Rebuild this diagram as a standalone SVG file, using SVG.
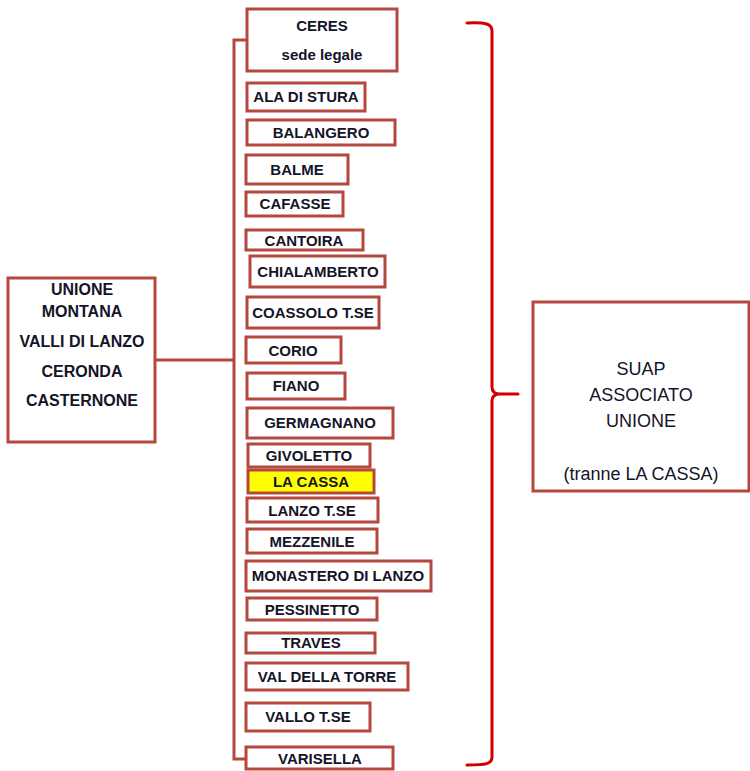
<svg xmlns="http://www.w3.org/2000/svg" width="750" height="771" viewBox="0 0 750 771">
<style>
.box{fill:#ffffff;stroke:#b5473f;stroke-width:3}
.hl{fill:#ffff00;stroke:#b5473f;stroke-width:3}
.t{font-family:"Liberation Sans",Arial,sans-serif;font-weight:bold;font-size:15px;fill:#141428;text-anchor:middle}
.tl{font-family:"Liberation Sans",Arial,sans-serif;font-weight:bold;font-size:16px;fill:#141428;text-anchor:middle}
.ts{font-family:"Liberation Sans",Arial,sans-serif;font-size:18px;fill:#141428;text-anchor:middle}
.conn{fill:none;stroke:#b5473f;stroke-width:3}
.brace{fill:none;stroke:#d00000;stroke-width:3;stroke-linejoin:round;stroke-linecap:round}
</style>
<rect width="750" height="771" fill="#ffffff"/>
<g id="connectors">
<path class="conn" d="M155,360 H234"/>
<path class="conn" d="M247,40 H234 V759 H246"/>
<path class="brace" d="M467,23 C486,22 492,24 492,31 L492,387 Q492,394 500,394 L518,394 M500,394 Q492,394 492,401 L492,757 C492,764 486,765 467,765"/>
</g>
<g id="unione"><rect class="box" x="8" y="278" width="147" height="164"/>
<text class="tl" x="82" y="295">UNIONE</text><text class="tl" x="82" y="317">MONTANA</text><text class="tl" x="82" y="347">VALLI DI LANZO</text><text class="tl" x="82" y="377">CERONDA</text><text class="tl" x="82" y="406">CASTERNONE</text></g>
<g id="ceres"><rect class="box" x="247" y="9" width="150" height="62"/><text class="t" x="322" y="31">CERES</text><text class="t" x="322" y="60">sede legale</text></g>
<g id="ala"><rect class="box" x="247" y="83" width="118" height="28"/><text class="t" x="306" y="102">ALA DI STURA</text></g>
<g id="balangero"><rect class="box" x="247" y="120" width="148" height="25"/><text class="t" x="321" y="138">BALANGERO</text></g>
<g id="balme"><rect class="box" x="246" y="155" width="102" height="29"/><text class="t" x="297" y="175">BALME</text></g>
<g id="cafasse"><rect class="box" x="246" y="192" width="97" height="24"/><text class="t" x="295" y="209">CAFASSE</text></g>
<g id="cantoira"><rect class="box" x="246" y="230" width="117" height="20"/><text class="t" x="304" y="246">CANTOIRA</text></g>
<g id="chialamberto"><rect class="box" x="250" y="256" width="135" height="31"/><text class="t" x="318" y="277">CHIALAMBERTO</text></g>
<g id="coassolo"><rect class="box" x="247" y="297" width="132" height="31"/><text class="t" x="313" y="318">COASSOLO T.SE</text></g>
<g id="corio"><rect class="box" x="246" y="337" width="95" height="26"/><text class="t" x="293" y="356">CORIO</text></g>
<g id="fiano"><rect class="box" x="247" y="373" width="98" height="26"/><text class="t" x="296" y="391">FIANO</text></g>
<g id="germagnano"><rect class="box" x="247" y="408" width="146" height="30"/><text class="t" x="320" y="428">GERMAGNANO</text></g>
<g id="givoletto"><rect class="box" x="248" y="444" width="122" height="23"/><text class="t" x="309" y="461">GIVOLETTO</text></g>
<g id="lacassa"><rect class="hl" x="248" y="470" width="126" height="23"/><text class="t" x="311" y="487">LA CASSA</text></g>
<g id="lanzo"><rect class="box" x="247" y="498" width="131" height="24"/><text class="t" x="312" y="516">LANZO T.SE</text></g>
<g id="mezzenile"><rect class="box" x="247" y="529" width="130" height="24"/><text class="t" x="312" y="547">MEZZENILE</text></g>
<g id="monastero"><rect class="box" x="246" y="561" width="185" height="30"/><text class="t" x="338" y="581">MONASTERO DI LANZO</text></g>
<g id="pessinetto"><rect class="box" x="247" y="598" width="130" height="22"/><text class="t" x="312" y="615">PESSINETTO</text></g>
<g id="traves"><rect class="box" x="246" y="633" width="129" height="20"/><text class="t" x="311" y="648">TRAVES</text></g>
<g id="valdellatorre"><rect class="box" x="246" y="663" width="162" height="27"/><text class="t" x="327" y="682">VAL DELLA TORRE</text></g>
<g id="vallo"><rect class="box" x="246" y="703" width="124" height="28"/><text class="t" x="308" y="722">VALLO T.SE</text></g>
<g id="varisella"><rect class="box" x="246" y="747" width="147" height="22"/><text class="t" x="320" y="764">VARISELLA</text></g>
<g id="suap"><rect class="box" x="533" y="302" width="216" height="189"/>
<text class="ts" x="641" y="375">SUAP</text><text class="ts" x="641" y="401">ASSOCIATO</text><text class="ts" x="641" y="427">UNIONE</text><text class="ts" x="641" y="480">(tranne LA CASSA)</text></g>
</svg>
